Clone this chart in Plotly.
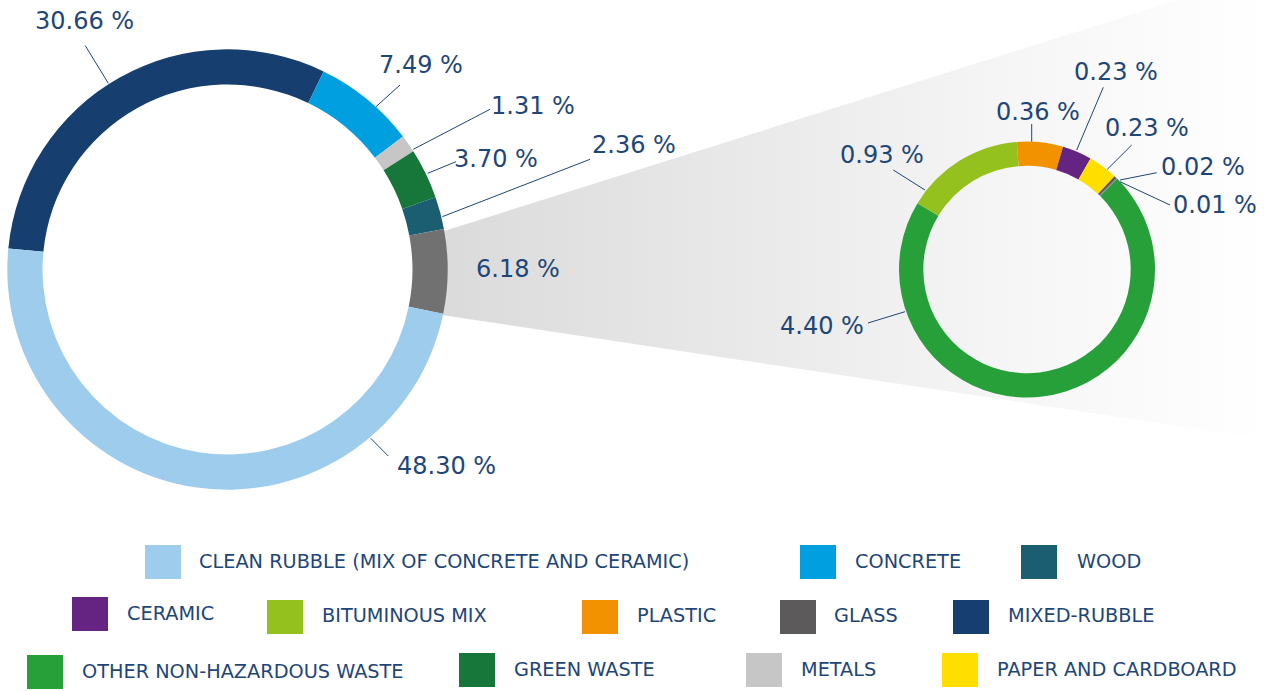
import plotly.graph_objects as go

# ---------------- data ----------------
left_labels = ["MIXED-RUBBLE", "CONCRETE", "METALS", "GREEN WASTE", "WOOD", "REST", "CLEAN RUBBLE (MIX OF CONCRETE AND CERAMIC)"]
left_values = [30.66, 7.49, 1.31, 3.70, 2.36, 6.18, 48.30]

right_labels = ["PLASTIC", "CERAMIC", "PAPER AND CARDBOARD", "GLASS", "UNSPECIFIED", "OTHER NON-HAZARDOUS WASTE", "BITUMINOUS MIX"]
right_values = [0.36, 0.23, 0.23, 0.02, 0.01, 4.40, 0.93]

legend_names = ["CLEAN RUBBLE (MIX OF CONCRETE AND CERAMIC)", "CONCRETE", "WOOD",
                "CERAMIC", "BITUMINOUS MIX", "PLASTIC", "GLASS", "MIXED-RUBBLE",
                "OTHER NON-HAZARDOUS WASTE", "GREEN WASTE", "METALS", "PAPER AND CARDBOARD"]

colors = {
    "CLEAN RUBBLE (MIX OF CONCRETE AND CERAMIC)": "#9dcced",
    "CONCRETE": "#009fe0",
    "WOOD": "#1b5e71",
    "CERAMIC": "#662482",
    "BITUMINOUS MIX": "#95c11f",
    "PLASTIC": "#f39200",
    "GLASS": "#5d5a5c",
    "MIXED-RUBBLE": "#163f6f",
    "OTHER NON-HAZARDOUS WASTE": "#28a03a",
    "GREEN WASTE": "#17773a",
    "METALS": "#c6c6c6",
    "PAPER AND CARDBOARD": "#ffde00",
    "REST": "#717171",
    "UNSPECIFIED": "#7a7a7a",
}

# ---------------- layout helpers ----------------
W, H = 1271, 691
TXT = "#1e4677"
FONT = "DejaVu Sans"

def dom_x(x0, x1):
    return [x0 / W, x1 / W]

def dom_y(top, bottom):
    return [(H - bottom) / H, (H - top) / H]

fig = go.Figure()

# gradient wedge linking the two rings (pixel-space axes)
wedge_x = [430, 1271, 1271, 430]
wedge_y = [235.4, -29.4, 440, 313.2]
fig.add_trace(go.Scatter(
    x=wedge_x, y=wedge_y, mode="lines", fill="toself", line=dict(width=0),
    fillgradient=dict(type="horizontal",
                      colorscale=[[0, "#dadada"], [0.7, "#f6f6f6"], [1, "#ffffff"]]),
    hoverinfo="skip", showlegend=False))

fig.add_trace(go.Pie(
    labels=left_labels, values=left_values, sort=False, direction="clockwise",
    rotation=-84.5, hole=0.84, textinfo="none", showlegend=False,
    marker=dict(colors=[colors[l] for l in left_labels], line=dict(width=0)),
    domain=dict(x=dom_x(7.3, 447.7), y=dom_y(49.3, 489.7))))

fig.add_trace(go.Pie(
    labels=right_labels, values=right_values, sort=False, direction="clockwise",
    rotation=-4.6, hole=0.81, textinfo="none", showlegend=False,
    marker=dict(colors=[colors[l] for l in right_labels], line=dict(width=0)),
    domain=dict(x=dom_x(899, 1155), y=dom_y(141.5, 397.5))))

annotations = []
shapes = []

# percentage labels: (text centre x, y) and leader line (x0, y0, x1, y1)
left_label_pos = [(84.5, 21), (421, 64.5), (533, 105.5), (496, 159), (634, 144.5), (518, 269), (446, 466)]
left_lines = [(85.3, 45.7, 108.3, 83.3), (400, 85, 376, 106.7), (490, 109.3, 413.3, 149.3),
              (456, 161.7, 427.7, 173.3), (590, 159.3, 442.3, 216.7), None,
              (370.7, 438.3, 388.3, 456)]
right_label_pos = [(1037.5, 112), (1116, 71.7), (1147, 128.3), (1203, 166.7), (1215.3, 205.3), (822, 326), (882, 155)]
right_lines = [(1031.7, 124, 1031.7, 141.7), (1103.3, 87.3, 1076.7, 150), (1131.7, 145, 1107.3, 169.3),
               (1156.7, 172.7, 1120, 180), (1170, 205, 1120, 181.7), (868, 323, 905, 311.7),
               (893.3, 170, 925, 190)]

for vals, poss, lines in [(left_values, left_label_pos, left_lines), (right_values, right_label_pos, right_lines)]:
    for v, (px, py), ln in zip(vals, poss, lines):
        annotations.append(dict(x=px, y=py, xref="x", yref="y", text=f"{v:.2f} %", showarrow=False,
                                xanchor="center", yanchor="middle",
                                font=dict(family=FONT, size=24, color=TXT)))
        if ln is not None:
            shapes.append(dict(type="line", xref="x", yref="y", x0=ln[0], y0=ln[1], x1=ln[2], y1=ln[3],
                               line=dict(color=TXT, width=1)))

# legend (square left/top, text left x, text centre y)
legend_pos = [(145, 545, 197, 561), (800, 545, 853, 561), (1021, 545, 1075, 561),
              (72, 597, 125, 613), (267, 600, 320, 615), (582, 600, 635, 615), (780, 600, 832, 615),
              (953, 600, 1006, 615),
              (27, 655, 80, 671), (459, 653, 512, 669), (746, 653, 799, 669), (942, 653, 995, 669)]
for name, (sx, sy, tx, ty) in zip(legend_names, legend_pos):
    shapes.append(dict(type="rect", xref="x", yref="y", x0=sx, y0=sy, x1=sx + 36, y1=sy + 34,
                       fillcolor=colors[name], line=dict(width=0)))
    annotations.append(dict(x=tx, y=ty, xref="x", yref="y", text=name, showarrow=False,
                            xanchor="left", yanchor="middle",
                            font=dict(family=FONT, size=19.3, color=TXT)))

fig.update_layout(
    width=W, height=H, margin=dict(l=0, r=0, t=0, b=0),
    paper_bgcolor="white", plot_bgcolor="rgba(0,0,0,0)",
    xaxis=dict(range=[0, W], visible=False, fixedrange=True, domain=[0, 1]),
    yaxis=dict(range=[H, 0], visible=False, fixedrange=True, domain=[0, 1]),
    annotations=annotations, shapes=shapes, showlegend=False,
)

fig.write_html("out.html", config={"displayModeBar": False},
               post_script="document.body.style.margin='0';document.body.style.overflow='hidden';")
